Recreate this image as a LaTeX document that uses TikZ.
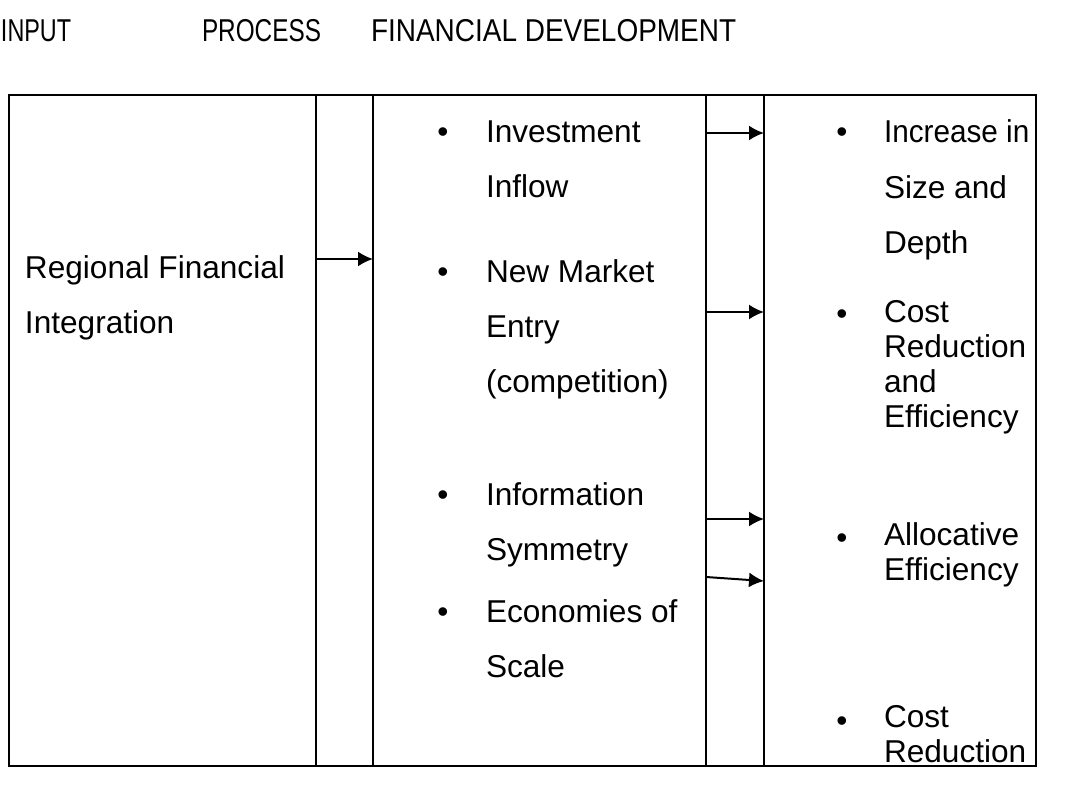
\documentclass[tikz,border=0pt]{standalone}
\usepackage{fontspec}
\setmainfont{Liberation Sans}
\usetikzlibrary{arrows.meta}

\begin{document}
\begin{tikzpicture}[x=0.5pt,y=-0.5pt,>={Latex[length=7.5pt,width=7.5pt]},line width=1pt]

  \tikzset{
    txt/.style={anchor=base west,inner sep=0pt,align=left,font=\fontsize{15.8}{27.5}\selectfont},
    txts/.style={anchor=base west,inner sep=0pt,align=left,font=\fontsize{15.8}{17.5}\selectfont},
    bul/.style={anchor=base,inner sep=0pt,font=\fontsize{15.8}{18}\selectfont},
  }
  \useasboundingbox (0,0) rectangle (1091,791);

  % headings (narrow type in the original)
  \node[txt](hin) at (0,42) {\scalebox{0.74}[1]{INPUT}};
  \node[txt](hpr) at (201,42) {\scalebox{0.77}[1]{PROCESS}};
  \node[txt](hfd) at (370,42) {\scalebox{0.885}[1]{FINANCIAL DEVELOPMENT}};

  % table
  \draw (9,95) rectangle (1036,766);
  \foreach \x in {316,373,706,764}
    \draw (\x,95) -- (\x,766);

  % input (base = last line)
  \node[txt](rfi) at (24,333) {Regional Financial\\Integration};

  % process
  \node[bul] at (443,143) {•};
  \node[txt](inv) at (485,198) {Investment\\Inflow};
  \node[bul] at (443,282) {•};
  \node[txt](nme) at (485,392) {New Market\\Entry\\(competition)};
  \node[bul] at (443,505) {•};
  \node[txt](ins) at (485,560) {Information\\Symmetry};
  \node[bul] at (443,622) {•};
  \node[txt](eco) at (485,677) {Economies of\\Scale};

  % financial development
  \node[bul] at (842,143) {•};
  \node[txt](siz) at (883,253) {\scalebox{0.94}[1]{Increase in}\\Size and\\Depth};
  \node[bul] at (842,324) {•};
  \node[txts](cre) at (883,427) {Cost\\Reduction\\and\\Efficiency};
  \node[bul] at (842,548) {•};
  \node[txts](alo) at (883,580) {Allocative\\Efficiency};
  \node[bul] at (842,731) {•};
  \node[txts](cor) at (883,762) {Cost\\Reduction};

  % arrows between the columns
  \coordinate (p0) at (316,259);
  \coordinate (q0) at (373,259);
  \coordinate (p1) at (706,133);
  \coordinate (q1) at (764,133);
  \coordinate (p2) at (706,312);
  \coordinate (q2) at (764,312);
  \coordinate (p3) at (706,519);
  \coordinate (q3) at (764,519);
  \coordinate (p4) at (706,577);
  \coordinate (q4) at (764,581);
  \draw[->] (p0) -- (q0);
  \foreach \i in {1,...,4}
    \draw[->] (p\i) -- (q\i);

\end{tikzpicture}
\end{document}
